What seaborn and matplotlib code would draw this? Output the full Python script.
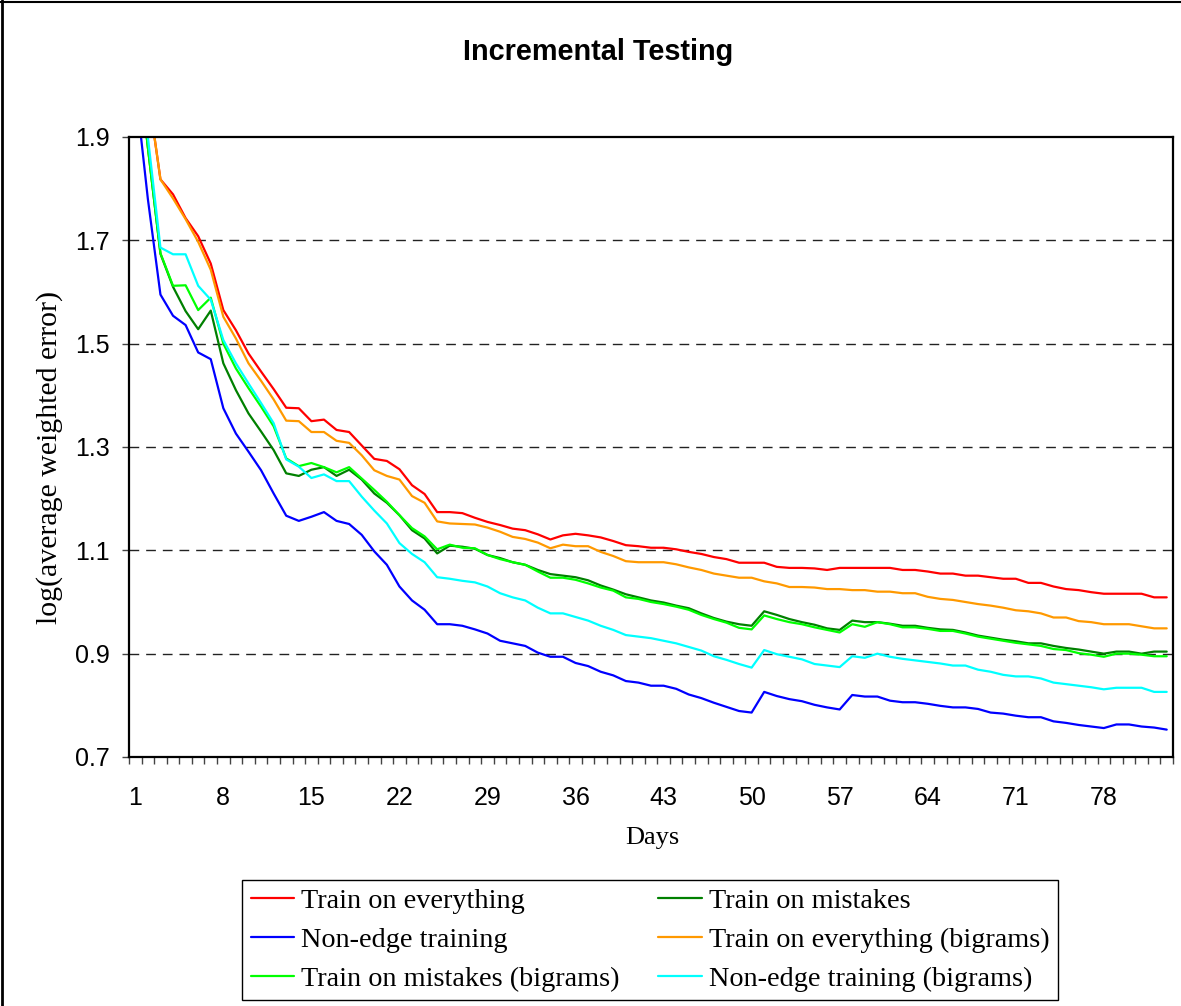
import numpy as np
import pandas as pd
import seaborn as sns
import matplotlib
matplotlib.use("Agg")
import matplotlib.pyplot as plt
from matplotlib.ticker import FixedLocator
from matplotlib.lines import Line2D

# ---------------- data ----------------
days = list(range(1, 84))

train_everything = [
    2.20, 1.99, 1.818, 1.789, 1.743, 1.708, 1.655, 1.565, 1.526, 1.481,
    1.446, 1.412, 1.376, 1.375, 1.350, 1.353, 1.333, 1.329, 1.303, 1.277,
    1.273, 1.257, 1.226, 1.209, 1.174, 1.174, 1.172, 1.163, 1.155, 1.149,
    1.142, 1.139, 1.131, 1.121, 1.129, 1.132, 1.129, 1.125, 1.118, 1.110,
    1.108, 1.105, 1.105, 1.102, 1.097, 1.093, 1.087, 1.083, 1.076, 1.076,
    1.076, 1.068, 1.066, 1.066, 1.065, 1.062, 1.066, 1.066, 1.066, 1.066,
    1.066, 1.062, 1.062, 1.059, 1.055, 1.055, 1.051, 1.051, 1.048, 1.045,
    1.045, 1.037, 1.037, 1.030, 1.025, 1.023, 1.019, 1.016, 1.016, 1.016,
    1.016, 1.009, 1.009]

train_mistakes = [
    2.10, 1.88, 1.674, 1.610, 1.563, 1.528, 1.564, 1.462, 1.410, 1.365,
    1.330, 1.294, 1.249, 1.244, 1.256, 1.261, 1.244, 1.256, 1.237, 1.210,
    1.192, 1.168, 1.139, 1.123, 1.094, 1.109, 1.107, 1.103, 1.091, 1.085,
    1.077, 1.072, 1.062, 1.054, 1.051, 1.048, 1.042, 1.032, 1.024, 1.015,
    1.009, 1.003, 0.999, 0.993, 0.988, 0.978, 0.969, 0.962, 0.957, 0.954,
    0.982, 0.975, 0.967, 0.961, 0.956, 0.949, 0.946, 0.964, 0.961, 0.961,
    0.958, 0.954, 0.954, 0.950, 0.947, 0.946, 0.941, 0.935, 0.931, 0.927,
    0.924, 0.920, 0.920, 0.915, 0.911, 0.908, 0.904, 0.900, 0.904, 0.904,
    0.900, 0.904, 0.904]

non_edge = [
    2.00, 1.78, 1.595, 1.554, 1.536, 1.483, 1.470, 1.375, 1.326, 1.291,
    1.255, 1.210, 1.167, 1.157, 1.165, 1.174, 1.157, 1.151, 1.130, 1.098,
    1.072, 1.030, 1.003, 0.985, 0.957, 0.957, 0.954, 0.947, 0.939, 0.925,
    0.920, 0.915, 0.902, 0.894, 0.894, 0.882, 0.876, 0.865, 0.858, 0.847,
    0.844, 0.838, 0.838, 0.832, 0.821, 0.814, 0.805, 0.797, 0.789, 0.786,
    0.826, 0.818, 0.812, 0.808, 0.801, 0.796, 0.792, 0.820, 0.817, 0.817,
    0.809, 0.806, 0.806, 0.803, 0.799, 0.796, 0.796, 0.793, 0.786, 0.784,
    0.780, 0.777, 0.777, 0.769, 0.766, 0.762, 0.759, 0.756, 0.763, 0.763,
    0.759, 0.757, 0.753]

train_everything_bi = [
    2.20, 1.99, 1.818, 1.781, 1.741, 1.697, 1.643, 1.552, 1.510, 1.462,
    1.428, 1.392, 1.351, 1.350, 1.329, 1.329, 1.312, 1.308, 1.284, 1.255,
    1.244, 1.237, 1.205, 1.192, 1.156, 1.152, 1.151, 1.150, 1.144, 1.136,
    1.126, 1.122, 1.115, 1.104, 1.111, 1.108, 1.108, 1.097, 1.089, 1.079,
    1.077, 1.077, 1.077, 1.073, 1.067, 1.062, 1.055, 1.051, 1.047, 1.047,
    1.040, 1.036, 1.029, 1.029, 1.028, 1.025, 1.025, 1.023, 1.023, 1.020,
    1.020, 1.017, 1.017, 1.010, 1.006, 1.004, 1.000, 0.996, 0.993, 0.989,
    0.984, 0.982, 0.978, 0.970, 0.970, 0.963, 0.961, 0.957, 0.957, 0.957,
    0.953, 0.949, 0.949]

train_mistakes_bi = [
    2.10, 1.88, 1.675, 1.612, 1.613, 1.565, 1.589, 1.500, 1.452, 1.414,
    1.378, 1.340, 1.278, 1.263, 1.269, 1.261, 1.251, 1.261, 1.239, 1.217,
    1.194, 1.168, 1.143, 1.127, 1.102, 1.111, 1.105, 1.104, 1.091, 1.083,
    1.077, 1.072, 1.059, 1.047, 1.047, 1.043, 1.036, 1.028, 1.022, 1.009,
    1.006, 1.000, 0.996, 0.991, 0.985, 0.975, 0.967, 0.960, 0.950, 0.947,
    0.974, 0.967, 0.961, 0.957, 0.951, 0.946, 0.941, 0.957, 0.952, 0.961,
    0.957, 0.951, 0.951, 0.948, 0.944, 0.944, 0.939, 0.933, 0.929, 0.925,
    0.921, 0.918, 0.915, 0.909, 0.907, 0.901, 0.898, 0.894, 0.900, 0.900,
    0.898, 0.895, 0.895]

non_edge_bi = [
    2.15, 1.90, 1.686, 1.673, 1.673, 1.612, 1.585, 1.507, 1.462, 1.423,
    1.385, 1.346, 1.276, 1.262, 1.240, 1.247, 1.234, 1.234, 1.204, 1.177,
    1.152, 1.114, 1.093, 1.077, 1.048, 1.045, 1.041, 1.038, 1.030, 1.017,
    1.009, 1.003, 0.989, 0.978, 0.978, 0.971, 0.964, 0.954, 0.946, 0.936,
    0.933, 0.930, 0.925, 0.920, 0.913, 0.906, 0.895, 0.888, 0.880, 0.873,
    0.907, 0.899, 0.894, 0.889, 0.880, 0.877, 0.874, 0.895, 0.892, 0.900,
    0.894, 0.890, 0.887, 0.884, 0.881, 0.877, 0.877, 0.869, 0.865, 0.859,
    0.856, 0.856, 0.852, 0.844, 0.841, 0.838, 0.835, 0.831, 0.834, 0.834,
    0.834, 0.826, 0.826]

series_names = ["Train on everything", "Train on mistakes", "Non-edge training",
                "Train on everything (bigrams)", "Train on mistakes (bigrams)",
                "Non-edge training (bigrams)"]
series_values = [train_everything, train_mistakes, non_edge,
                 train_everything_bi, train_mistakes_bi, non_edge_bi]
series_colors = ["#FF0000", "#008000", "#0000FF", "#FF9900", "#00FF00", "#00FFFF"]

x_tick_labels = ["1", "8", "15", "22", "29", "36", "43", "50", "57", "64", "71", "78"]
y_tick_values = [0.7, 0.9, 1.1, 1.3, 1.5, 1.7, 1.9]
grid_values = [0.9, 1.1, 1.3, 1.5, 1.7]

for v in series_values:
    assert len(v) == len(days), len(v)

df = pd.concat([pd.DataFrame({"Days": days, "value": vals, "series": name})
                for name, vals in zip(series_names, series_values)],
               ignore_index=True)

# ---------------- figure ----------------
sns.set_style("white")
plt.rcParams["font.family"] = ["Liberation Sans", "DejaVu Sans"]
plt.rcParams["text.color"] = "black"
plt.rcParams["xtick.color"] = "black"
plt.rcParams["ytick.color"] = "black"

SERIF = ["Liberation Serif", "DejaVu Serif"]

W, H = 1181, 1006
fig = plt.figure(figsize=(W / 100, H / 100), dpi=100)
fig.patch.set_facecolor("white")
L, R, T, B = 129, 1173, 137, 757
ax = fig.add_axes([L / W, 1 - B / H, (R - L) / W, (B - T) / H])

for yv in grid_values:
    ax.axhline(yv, color="#222222", lw=1.0, ls=(0, (7, 5)), zorder=0)

sns.lineplot(data=df, x="Days", y="value", hue="series", hue_order=series_names,
             palette=dict(zip(series_names, series_colors)), linewidth=1.6,
             estimator=None, sort=False, ax=ax, legend=True)

ax.set_xlim(0.5, 83.5)
ax.set_ylim(0.7, 1.9)
ax.set_xlabel("")
ax.set_ylabel("")

ax.set_yticks(y_tick_values)
ax.set_yticklabels([f"{v:.1f}" for v in y_tick_values])
ax.set_xticks([int(s) for s in x_tick_labels])
ax.set_xticklabels(x_tick_labels)
ax.xaxis.set_minor_locator(FixedLocator([d - 0.5 for d in days] + [days[-1] + 0.5]))

ax.tick_params(axis="x", which="major", bottom=True, length=0, pad=21, labelsize=18,
               labelcolor="black")
ax.tick_params(axis="x", which="minor", bottom=True, length=5, width=1, color="#444444",
               direction="out")
ax.tick_params(axis="y", which="major", left=True, length=5, width=1, color="#444444",
               direction="out", pad=9, labelsize=18, labelcolor="black")

for sp in ax.spines.values():
    sp.set_visible(True)
    sp.set_color("black")
    sp.set_linewidth(1.6)

# titles / labels
fig.text(598 / W, 1 - 52 / H, "Incremental Testing", ha="center", va="center",
         fontsize=20.8, fontweight="bold", color="black",
         family=["Liberation Sans", "DejaVu Sans"])
fig.text(50 / W, 1 - 457 / H, "log(average weighted error)", rotation=90,
         ha="center", va="center", fontsize=21.5, color="black", family=SERIF)
fig.text(652 / W, 1 - 838 / H, "Days", ha="center", va="center", fontsize=19,
         color="black", family=SERIF)

# legend (column-major fill in matplotlib)
handles, labels = ax.get_legend_handles_labels()
hmap = dict(zip(labels, handles))
legend_order = ["Train on everything", "Non-edge training", "Train on mistakes (bigrams)",
                "Train on mistakes", "Train on everything (bigrams)",
                "Non-edge training (bigrams)"]
leg = ax.legend([hmap[n] for n in legend_order], legend_order, ncol=2, loc="center",
                bbox_to_anchor=(650 / W, 1 - 940 / H), bbox_transform=fig.transFigure,
                frameon=True, fancybox=False, framealpha=1, edgecolor="black",
                prop={"family": SERIF, "size": 20.3}, labelcolor="black",
                handlelength=1.55, handletextpad=0.25, columnspacing=1.35,
                labelspacing=0.47, borderpad=0.3)
leg.get_frame().set_linewidth(1.0)

# chart-area border (left and top)
fig.add_artist(Line2D([2 / W, 2 / W], [0, 1], transform=fig.transFigure, color="black", lw=2))
fig.add_artist(Line2D([0, 1], [1 - 2 / H, 1 - 2 / H], transform=fig.transFigure,
                      color="black", lw=1.5))

fig.savefig("out.png", dpi=100, facecolor="white")
